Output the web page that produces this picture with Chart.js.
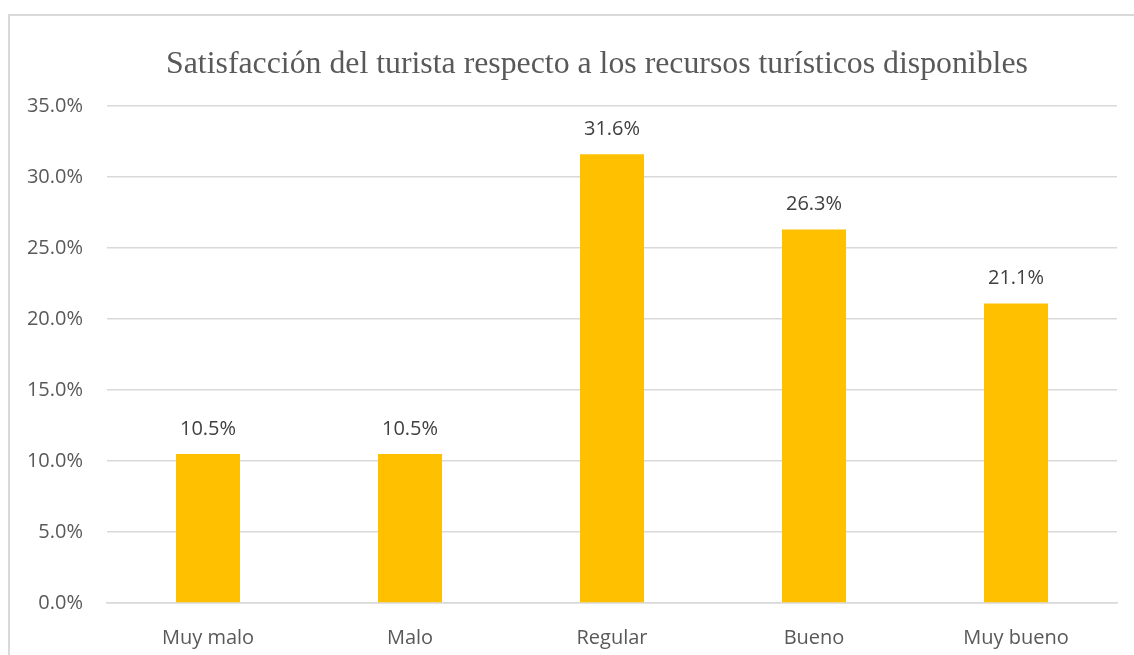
<!DOCTYPE html>
<html>
<head>
<meta charset="utf-8">
<script src="https://cdn.jsdelivr.net/npm/chart.js@4"></script>
<style>
  html, body { margin: 0; padding: 0; background: #fff; }
  #wrap { position: relative; width: 1134px; height: 655px; }
  #frame {
    position: absolute; left: 8px; top: 14px; right: -4px; bottom: -4px;
    border-top: 2px solid #d9d9d9; border-left: 2px solid #d9d9d9;
    pointer-events: none;
  }
</style>
</head>
<body>
<div id="wrap">
  <canvas id="chart" width="1134" height="655"></canvas>
  <div id="frame"></div>
</div>
<script>
// Satisfacción del turista - bar chart

const chartTitle = "Satisfacción del turista respecto a los recursos turísticos disponibles";
const categories = ["Muy malo", "Malo", "Regular", "Bueno", "Muy bueno"];
const shares = [10.5, 10.5, 31.6, 26.3, 21.1];
const yTicks = [0, 5, 10, 15, 20, 25, 30, 35];

const SANS = "'Open Sans', 'Noto Sans', sans-serif";
const GREY = "#595959";

// title (centred on the whole frame, which runs past the right edge)
const frameTitle = {
  id: "frameTitle",
  afterDraw(chart) {
    const ctx = chart.ctx;
    ctx.save();
    ctx.font = "31.8px 'Liberation Serif', 'Times New Roman', serif";
    ctx.fillStyle = GREY;
    ctx.textAlign = "center";
    ctx.textBaseline = "alphabetic";
    ctx.fillText(chartTitle, 597, 73);
    ctx.restore();
  },
};

// value labels above the bars
const barLabels = {
  id: "barLabels",
  afterDatasetsDraw(chart) {
    const ctx = chart.ctx;
    const meta = chart.getDatasetMeta(0);
    ctx.save();
    ctx.font = "20px " + SANS;
    ctx.fillStyle = "#404040";
    ctx.textAlign = "center";
    ctx.textBaseline = "middle";
    meta.data.forEach((bar, i) => {
      ctx.fillText(shares[i].toFixed(1) + "%", bar.x, bar.y - 25);
    });
    ctx.restore();
  },
};

new Chart(document.getElementById("chart"), {
  type: "bar",
  data: {
    labels: categories,
    datasets: [{
      data: shares,
      backgroundColor: "#FFC000",
      borderWidth: 0,
      categoryPercentage: 1,
      barPercentage: 0.317,
    }],
  },
  options: {
    responsive: false,
    animation: false,
    layout: { padding: { left: 10, right: 17, top: 106, bottom: 0 } },
    plugins: {
      legend: { display: false },
      tooltip: { enabled: false },
      title: { display: false },
    },
    scales: {
      y: {
        min: 0,
        max: 35,
        afterBuildTicks: (scale) => { scale.ticks = yTicks.map(v => ({ value: v })); },
        afterFit: (scale) => { scale.width = 97; },
        ticks: {
          color: GREY,
          font: { family: SANS, size: 20 },
          padding: 24,
          callback: (v) => Number(v).toFixed(1) + "%",
        },
        grid: { color: "#d9d9d9", lineWidth: 1.5, drawTicks: false },
        border: { display: false },
      },
      x: {
        afterFit: (scale) => { scale.height = 52; },
        ticks: {
          color: GREY,
          font: { family: SANS, size: 20 },
          padding: 23,
        },
        grid: { display: false, drawTicks: false },
        border: { color: "#d9d9d9", width: 1.5 },
      },
    },
  },
  plugins: [barLabels, frameTitle],
});
</script>
</body>
</html>
